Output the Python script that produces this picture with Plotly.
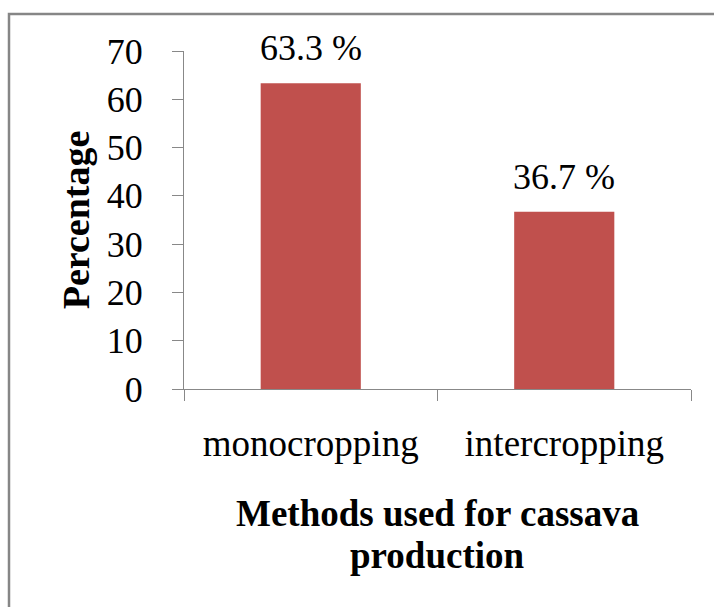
import plotly.graph_objects as go

categories = ["monocropping", "intercropping"]
values = [63.3, 36.7]
labels = ["63.3 %", "36.7 %"]
y_ticks = [0, 10, 20, 30, 40, 50, 60, 70]
x_title_lines = ["Methods used for cassava", "production"]
y_title = "Percentage"

W, H = 714, 607
L, T = 184, 51
pw, ph = 507, 338
R = W - L - pw
B = H - T - ph

serif = "Liberation Serif, Times New Roman, serif"

fig = go.Figure()
fig.add_trace(go.Bar(
    x=categories, y=values,
    marker=dict(color="#C0504D", line=dict(width=0)),
    width=0.395,
))

# data labels above bars
for c, v, t in zip(categories, values, labels):
    fig.add_annotation(x=c, y=v, xref="x", yref="y", text=t, showarrow=False,
                       yanchor="bottom", yshift=13,
                       font=dict(family=serif, size=36, color="#000"))

def px(xs):
    return (xs - L) / pw

def py(ys):
    return (T + ph - ys) / ph

# x-axis title (two lines)
for line, yc in zip(x_title_lines, [513, 555]):
    fig.add_annotation(x=0.5, y=py(yc), xref="paper", yref="paper",
                       text="<b>%s</b>" % line, showarrow=False,
                       xanchor="center", yanchor="middle",
                       font=dict(family=serif, size=37, color="#000"))

fig.update_layout(
    width=W, height=H,
    margin=dict(l=L, r=R, t=T, b=B),
    plot_bgcolor="white", paper_bgcolor="white",
    showlegend=False,
    font=dict(family=serif, color="#000"),
    xaxis=dict(
        showline=True, linecolor="#888", linewidth=1,
        ticks="outside", tickson="boundaries", ticklen=11, tickcolor="#888",
        tickfont=dict(size=37, family=serif, color="#000"),
        ticklabelstandoff=22,
        range=[-0.5, 1.5],
    ),
    yaxis=dict(
        range=[0, 70], tickvals=y_ticks,
        showline=True, linecolor="#888", linewidth=1,
        ticks="outside", ticklen=11, tickcolor="#888",
        showgrid=False, zeroline=False,
        tickfont=dict(size=36, family=serif, color="#000"),
        ticklabelstandoff=22,
        title=dict(text="<b>%s</b>" % y_title,
                   font=dict(size=38, family=serif, color="#000"), standoff=5),
    ),
    shapes=[dict(type="rect", xref="paper", yref="paper",
                 x0=px(9), x1=px(740), y0=py(640), y1=py(14),
                 line=dict(color="#868686", width=2.5), layer="below")],
)

fig.write_html("out.html", config={"displayModeBar": False}, post_script=(
    "document.body.style.margin='0';"
    "document.body.style.overflow='hidden';"
    "document.documentElement.style.overflow='hidden';"
))
